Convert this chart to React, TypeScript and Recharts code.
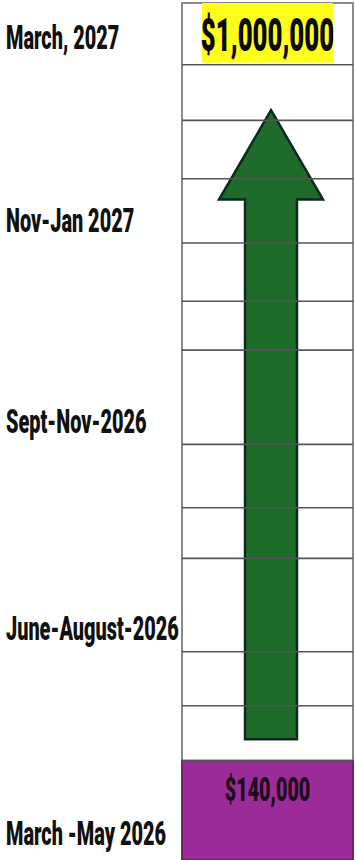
import React from 'react'
import {
  ComposedChart,
  Bar,
  XAxis,
  YAxis,
  ReferenceLine,
  ReferenceArea,
} from 'recharts'

// timeline periods (bottom to top) and where each sits on the 0-100 progress scale
const periods = ['March -May 2026', 'June-August-2026', 'Sept-Nov-2026', 'Nov-Jan 2027', 'March, 2027']
const periodLevels = [3.1, 27.1, 51.2, 74.7, 96.0]

// row dividers of the progress column
const rowLevels = [11.6, 18.0, 24.3, 35.2, 41.1, 48.5, 59.5, 65.2, 72.0, 79.5, 86.3, 92.8]

const startAmount = 140000
const goalAmount = 1000000
const startBand = [0, 11.6]
const arrowRange = [14.1, 87.5]
const goalBand = [92.8, 100]

const data = [
  { name: 'plan', start: startBand, arrow: arrowRange, goal: goalBand, startAmount, goalAmount },
]

const money = (v: number) => '$' + v.toLocaleString('en-US')
const FONT = 'Roboto, "Noto Sans", sans-serif'

const PeriodTick = (props: any) => {
  const { y, payload } = props
  const label = periods[periodLevels.indexOf(payload.value)] ?? ''
  return (
    <text
      transform={`translate(6, ${y + 12}) scale(0.585, 1)`}
      fontFamily={FONT}
      fontWeight={900}
      fontSize={34}
      fill="#111"
    >
      {label}
    </text>
  )
}

const ArrowShape = (props: any) => {
  const { x, y, width, height } = props
  const cx = x + width / 2 + 3
  const headH = width * 0.86
  const half = width / 4
  const d = [
    `M${cx},${y}`,
    `L${cx + width / 2},${y + headH}`,
    `L${cx + half},${y + headH}`,
    `L${cx + half},${y + height}`,
    `L${cx - half},${y + height}`,
    `L${cx - half},${y + headH}`,
    `L${cx - width / 2},${y + headH}`,
    'Z',
  ].join(' ')
  return <path d={d} fill="#1e6b2a" stroke="#0c2a22" strokeWidth={2.5} strokeLinejoin="miter" />
}

const StartShape = (props: any) => {
  const { x, y, width, height, payload } = props
  const cx = x + width / 2
  return (
    <g>
      <rect x={x} y={y} width={width} height={height} fill="#9b2b98" stroke="#5e1a5b" strokeWidth={1.5} />
      <text
        transform={`translate(${cx}, ${y + 40}) scale(0.6, 1)`}
        textAnchor="middle"
        fontFamily={FONT}
        fontWeight={900}
        fontSize={33}
        fill="#1c0c1c"
      >
        {money(payload.startAmount)}
      </text>
    </g>
  )
}

const GoalShape = (props: any) => {
  const { x, y, width, height, payload } = props
  const cx = x + width / 2
  return (
    <g>
      <rect x={cx - 65.5} y={y} width={131} height={height - 2} fill="#ffff1a" />
      <text
        transform={`translate(${cx}, ${y + 48}) scale(0.56, 1)`}
        textAnchor="middle"
        fontFamily={FONT}
        fontWeight={900}
        fontSize={46}
        fill="#0a0a0a"
      >
        {money(payload.goalAmount)}
      </text>
    </g>
  )
}

export default function App() {
  return (
    <div style={{ width: 355, height: 860, background: '#fff' }}>
      <style>{'body{margin:0;background:#fff}'}</style>
      <ComposedChart
        width={355}
        height={860}
        data={data}
        margin={{ top: 3, right: 2, bottom: 0, left: 0 }}
        barCategoryGap={0}
        barGap={0}
      >
        <XAxis dataKey="name" hide />
        <XAxis xAxisId="arrow" dataKey="name" hide />
        <XAxis xAxisId="goal" dataKey="name" hide />
        <YAxis
          type="number"
          domain={[0, 100]}
          ticks={periodLevels}
          interval={0}
          width={182}
          tick={<PeriodTick />}
          tickLine={false}
          axisLine={false}
        />
        <ReferenceArea y1={0} y2={100} fill="#fff" fillOpacity={1} stroke="#8a8a8a" strokeWidth={2} />
        {rowLevels.map((v) => (
          <ReferenceLine key={v} y={v} stroke="#555" strokeWidth={1.6} />
        ))}
        <Bar dataKey="start" shape={<StartShape />} isAnimationActive={false} />
        <Bar dataKey="goal" xAxisId="goal" shape={<GoalShape />} isAnimationActive={false} />
        <Bar dataKey="arrow" xAxisId="arrow" barSize={104} shape={<ArrowShape />} isAnimationActive={false} />
      </ComposedChart>
    </div>
  )
}
